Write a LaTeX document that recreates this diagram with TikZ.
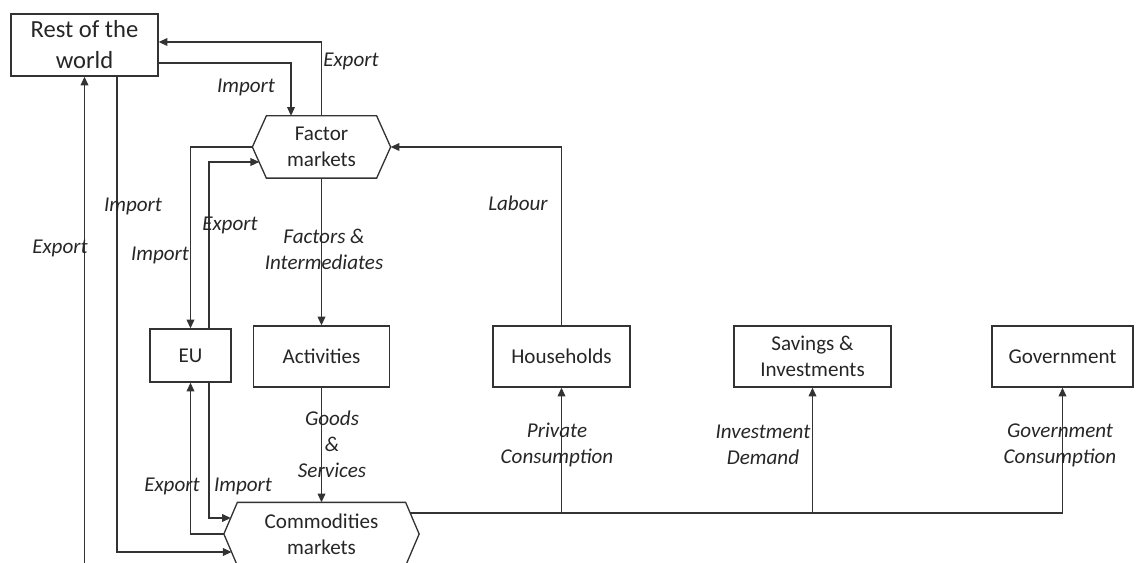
\documentclass[tikz,border=0pt]{standalone}
\usepackage{fontspec}
\setmainfont{Carlito}
\usepackage{tikz}
\usetikzlibrary{calc,arrows.meta}
\tikzset{
	circular flow/.style={
		x=0.02cm,y=-0.02cm, % one unit = one pixel of the layout
		line width=0.75pt,
		color=black!80,
		>={Triangle[length=5pt,width=4.4pt]},
		font=\fontsize{12}{15}\selectfont
	},
	agent/.style={
		rectangle,
		draw,
		align=center,
		inner sep=0pt,
		text=black!85,
		minimum height=1.22cm
	},
	market/.style={% the frame is drawn by \marketframe
		rectangle,
		align=center,
		inner sep=0pt,
		text=black!85,
		minimum height=1.22cm
	},
	flow label/.style={
		inner sep=0pt,
		align=center,
		text=black!85,
		font=\fontsize{12}{14.7}\selectfont\itshape
	}
}
% hexagon round a market node: node name, indent of the points
\newcommand{\marketframe}[2]{%
	\draw ($(#1.north west)+(#2,0)$) -- ($(#1.north east)+(-#2,0)$) -- (#1.east)
		-- ($(#1.south east)+(-#2,0)$) -- ($(#1.south west)+(#2,0)$) -- (#1.west) -- cycle;}

\begin{document}
\begin{tikzpicture}[circular flow]
	\useasboundingbox (0,0) rectangle (1137,563);
	% agents and markets
	\node[agent,minimum width=2.94cm,minimum height=1.24cm,
		font=\fontsize{14}{17.6}\selectfont] (rest) at (84.5,45) {Rest of the\\world};
	\node[market,minimum width=2.74cm] (factor) at (321.5,147) {Factor\\markets};
	\node[agent,minimum width=1.62cm,minimum height=1.06cm] (eu) at (190.5,355.5) {EU};
	\node[agent,minimum width=2.72cm] (act) at (321.5,356.5) {Activities};
	\node[agent,minimum width=2.74cm] (hh) at (561.5,356.5) {Households};
	\node[agent,minimum width=3.14cm] (sav) at (812.5,356.5) {Savings \&\\Investments};
	\node[agent,minimum width=2.82cm] (gov) at (1062.5,356.5) {Government};
	\node[market,minimum width=3.88cm,minimum height=1.24cm] (comm) at (321.5,534) {Commodities\\markets};
	\marketframe{factor}{14}
	\marketframe{comm}{13.5}

	% free ends and points on the slanted sides
	\coordinate (row export) at (84.5,580);
	\coordinate (factor in) at ($(factor.west)+(6.9,15)$);
	\coordinate (comm in low) at ($(comm.west)+(7.8,18)$);
	\coordinate (comm in up) at ($(comm.west)+(7,-16)$);
	\coordinate (comm out) at ($(comm.east)+(-9.1,-21)$);

	% flows
	\draw[->] (factor.north) |- ($(rest.east)+(0,-3)$);
	\draw[->] ($(rest.east)+(0,18)$) -| ($(factor.north)+(-30.5,0)$);
	\draw[->] (factor.west) -| (eu.north);
	\draw[->] ($(eu.north)+(18.5,0)$) |- (factor in);
	\draw[->] (row export) -- (rest.south);
	\draw[->] ($(rest.south)+(32.5,0)$) |- (comm in low);
	\draw[->] (comm.west) -| (eu.south);
	\draw[->] ($(eu.south)+(18.5,0)$) |- (comm in up);
	\draw[->] (factor.south) -- (act.north);
	\draw[->] (act.south) -- (comm.north);
	\draw[->] (hh.north) |- (factor.east);
	\draw[->] (comm out) -| (gov.south);
	\draw[->] (comm out -| hh.south) -- (hh.south);
	\draw[->] (comm out -| sav.south) -- (sav.south);

	% labels
	\node[flow label] (l export row) at (351,61) {Export};
	\node[flow label] (l import row) at (246,87) {Import};
	\node[flow label] (l export left) at (60,248) {Export};
	\node[flow label] (l import left) at (133,206) {Import};
	\node[flow label] (l export eu) at (230,225) {Export};
	\node[flow label] (l import eu) at (160,255) {Import};
	\node[flow label] (l factors) at (324,249.5) {Factors \&\\Intermediates};
	\node[flow label] (l labour) at (518,203) {Labour};
	\node[flow label] (l goods) at (332,444) {Goods\\\&\\Services};
	\node[flow label] (l export comm) at (172,486) {Export};
	\node[flow label] (l import comm) at (243,486) {Import};
	\node[flow label] (l private) at (557,445) {Private\\Consumption};
	\node[flow label] (l investment) at (763,445) {Investment\\Demand};
	\node[flow label] (l government) at (1060,445) {Government\\Consumption};
\end{tikzpicture}
\end{document}
